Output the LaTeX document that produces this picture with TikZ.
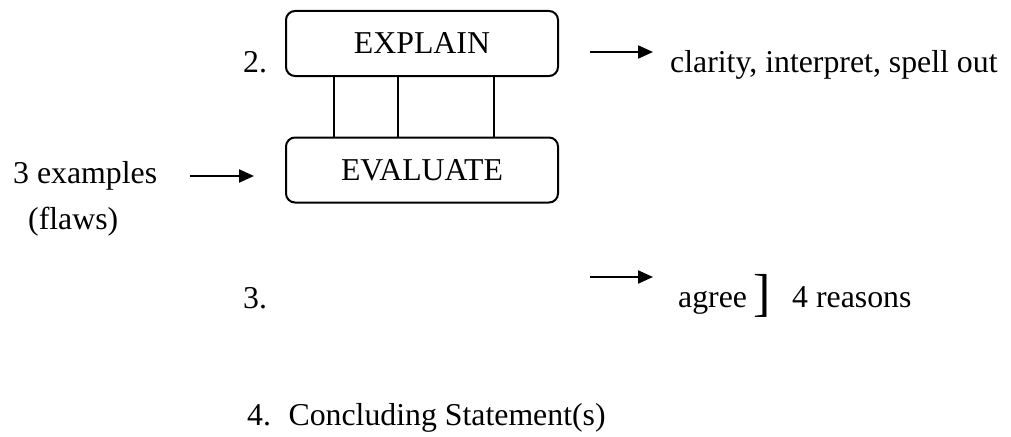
\documentclass[tikz,border=0pt]{standalone}
\usepackage{fontspec}
\setmainfont{Liberation Serif}
\usetikzlibrary{arrows.meta}
\begin{document}
\begin{tikzpicture}[x=1pt,y=-1pt,
  every node/.style={font=\fontsize{31.8}{38}\selectfont, inner sep=0pt},
  stagebox/.style={draw, line width=2pt, rounded corners=9pt,
    minimum width=272pt, minimum height=65pt},
  label/.style={anchor=base west},
  link/.style={line width=1.6pt},
  pointer/.style={line width=2.2pt, -{Triangle[length=15pt,width=13pt]}}]
\useasboundingbox (0,0) rectangle (1011,436);

% the two linked stages
\node[stagebox] (explain) at (422,43.5) {EXPLAIN};
\node[stagebox] (evaluate) at (422,170) {EVALUATE};
\foreach \dx in {-88,-24,72}
  \draw[link] ([xshift=\dx pt]explain.south) -- ([xshift=\dx pt]evaluate.north);

% numbering and side notes
\node[label] (two) at (243,72) {2.};
\node[label] (clarity) at (670,73) {clarity, interpret, spell out};
\node[label] (examples) at (13,183) {3 examples};
\node[label] (flaws) at (28,229) {(flaws)};
\node[label] (three) at (243,308) {3.};
\node[label] (agree) at (678,307) {agree};
\node[anchor=base west, font=\fontsize{52}{60}\selectfont] (bracket) at (753,310) {]};
\node[label] (reasons) at (792,307) {4 reasons};
\node[label] (four) at (247,425) {4.\hspace{0.55em}Concluding Statement(s)};

% arrows
\coordinate (p1s) at (590,52);
\coordinate (p1e) at (653,52);
\coordinate (p2s) at (190,176);
\coordinate (p2e) at (254,176);
\coordinate (p3s) at (590,277);
\coordinate (p3e) at (653,277);
\draw[pointer] (p1s) -- (p1e);
\draw[pointer] (p2s) -- (p2e);
\draw[pointer] (p3s) -- (p3e);
\end{tikzpicture}
\end{document}
